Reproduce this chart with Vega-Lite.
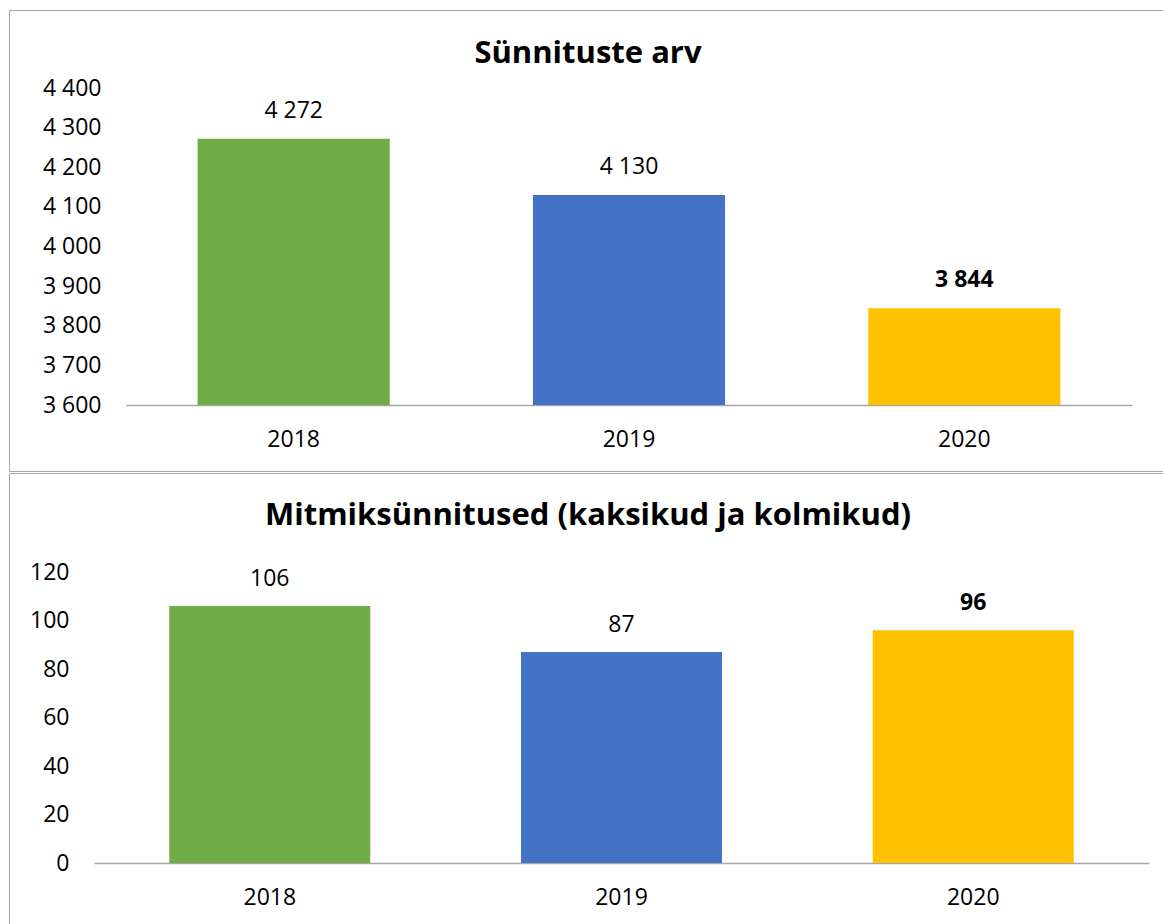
{
  "$schema": "https://vega.github.io/schema/vega-lite/v6.json",
  "padding": {"left": 8, "top": 9, "right": -5, "bottom": -6},
  "spacing": 0,
  "config": {
    "locale": {"number": {"decimal": ",", "thousands": " ", "grouping": [3], "currency": ["", " €"]}},
    "font": "Open Sans",
    "view": {"stroke": "#a6a6a6", "strokeWidth": 1},
    "axis": {"grid": false, "ticks": false, "tickSize": 0, "domain": false, "labelFont": "Open Sans", "labelFontSize": 23, "labelColor": "#000000", "title": null},
    "title": {"font": "Open Sans", "fontSize": 31, "fontWeight": "bold", "color": "#000000", "baseline": "middle", "anchor": "middle"}
  },
  "datasets": {
    "births": [
      {"year": "2018", "value": 4272},
      {"year": "2019", "value": 4130},
      {"year": "2020", "value": 3844}
    ],
    "multi": [
      {"year": "2018", "value": 106},
      {"year": "2019", "value": 87},
      {"year": "2020", "value": 96}
    ]
  },
  "vconcat": [
    {
      "width": 1158,
      "height": 461,
      "title": {"text": "Sünnituste arv", "offset": -60},
      "data": {"name": "births"},
      "encoding": {
        "x": {"field": "year", "type": "nominal", "title": null,
          "scale": {"range": [117, 1123], "paddingInner": 0.427, "paddingOuter": 0.2135},
          "axis": {"orient": "bottom", "domain": true, "domainColor": "#a6a6a6", "domainWidth": 1.5, "offset": -66, "labelPadding": 34.5, "labelBaseline": "middle", "labelAngle": 0}},
        "y": {"field": "value", "type": "quantitative", "title": null,
          "scale": {"domain": [3600, 4400], "range": [395, 78], "zero": false, "nice": false},
          "axis": {"values": [3600, 3700, 3800, 3900, 4000, 4100, 4200, 4300, 4400], "format": ",d", "offset": -92, "labelPadding": 0, "labelAlign": "right"}}
      },
      "layer": [
        {
          "mark": {"type": "bar"},
          "encoding": {
            "y2": {"datum": 3600},
            "color": {"field": "year", "type": "nominal", "legend": null,
              "scale": {"domain": ["2018", "2019", "2020"], "range": ["#70ad47", "#4472c4", "#ffc000"]}}
          }
        },
        {
          "transform": [{"filter": "datum.year != '2020'"}],
          "mark": {"type": "text", "dy": -28, "fontSize": 23, "baseline": "middle", "color": "#000000", "font": "Open Sans"},
          "encoding": {"text": {"field": "value", "type": "quantitative", "format": ",d"}}
        },
        {
          "transform": [{"filter": "datum.year == '2020'"}],
          "mark": {"type": "text", "dy": -28, "fontSize": 23, "fontWeight": "bold", "baseline": "middle", "color": "#000000", "font": "Open Sans"},
          "encoding": {"text": {"field": "value", "type": "quantitative", "format": ",d"}}
        }
      ]
    },
    {
      "width": 1158,
      "height": 458,
      "title": {"text": "Mitmiksünnitused (kaksikud ja kolmikud)", "offset": -59},
      "data": {"name": "multi"},
      "encoding": {
        "x": {"field": "year", "type": "nominal", "title": null,
          "scale": {"range": [85, 1140], "paddingInner": 0.4285, "paddingOuter": 0.214},
          "axis": {"orient": "bottom", "domain": true, "domainColor": "#a6a6a6", "domainWidth": 1.5, "offset": -68, "labelPadding": 34.5, "labelBaseline": "middle", "labelAngle": 0}},
        "y": {"field": "value", "type": "quantitative", "title": null,
          "scale": {"domain": [0, 120], "range": [390, 99], "nice": false},
          "axis": {"values": [0, 20, 40, 60, 80, 100, 120], "format": ",d", "offset": -60, "labelPadding": 0, "labelAlign": "right"}}
      },
      "layer": [
        {
          "mark": {"type": "bar"},
          "encoding": {
            "y2": {"datum": 0},
            "color": {"field": "year", "type": "nominal", "legend": null,
              "scale": {"domain": ["2018", "2019", "2020"], "range": ["#70ad47", "#4472c4", "#ffc000"]}}
          }
        },
        {
          "transform": [{"filter": "datum.year != '2020'"}],
          "mark": {"type": "text", "dy": -27, "fontSize": 23, "baseline": "middle", "color": "#000000", "font": "Open Sans"},
          "encoding": {"text": {"field": "value", "type": "quantitative", "format": ",d"}}
        },
        {
          "transform": [{"filter": "datum.year == '2020'"}],
          "mark": {"type": "text", "dy": -27, "fontSize": 23, "fontWeight": "bold", "baseline": "middle", "color": "#000000", "font": "Open Sans"},
          "encoding": {"text": {"field": "value", "type": "quantitative", "format": ",d"}}
        }
      ]
    }
  ]
}
